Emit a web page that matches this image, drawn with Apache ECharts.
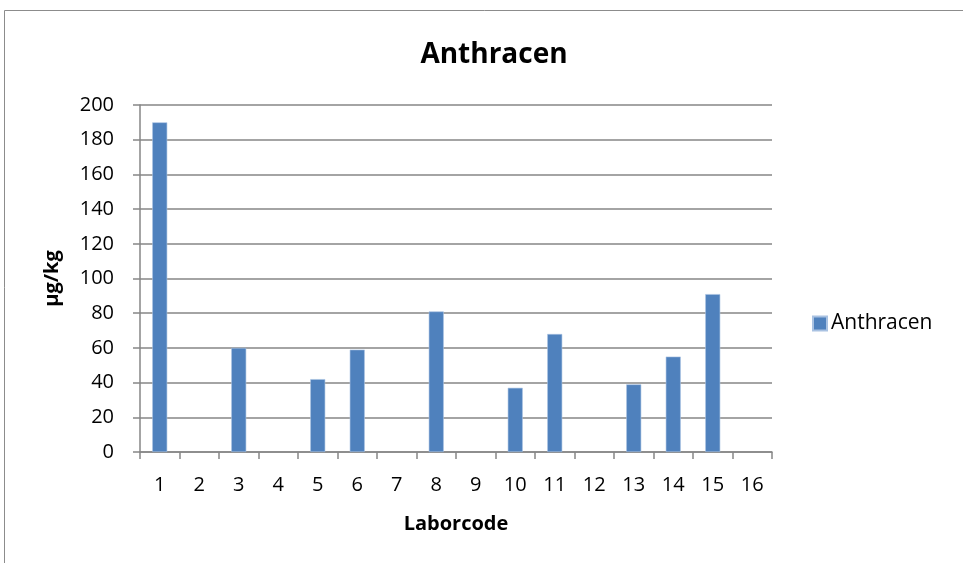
<!DOCTYPE html>
<html>
<head>
<meta charset="utf-8">
<script src="https://cdn.jsdelivr.net/npm/echarts@6/dist/echarts.min.js"></script>
<style>
  html, body { margin: 0; padding: 0; background: #fff; }
  #chart { width: 963px; height: 563px; }
</style>
</head>
<body>
<div id="chart"></div>
<script>
// Laboratory codes and measured Anthracen contents (µg/kg); null = no result
const laborcodes = ['1','2','3','4','5','6','7','8','9','10','11','12','13','14','15','16'];
const anthracenValues = [190, null, 60, null, 42, 59, null, 81, null, 37, 68, null, 39, 55, 91, null];
const yTicks = { min: 0, max: 200, interval: 20 };

const font = '"Open Sans", Lato, "Liberation Sans", sans-serif';
const gridColor = '#868686';

const chart = echarts.init(document.getElementById('chart'), null, { renderer: 'canvas' });
chart.setOption({
  backgroundColor: '#ffffff',
  animation: false,
  graphic: [{
    type: 'rect',
    shape: { x: 4.5, y: 10.5, width: 1000, height: 600 },
    style: { fill: 'none', stroke: '#8c8c8c', lineWidth: 1 },
    silent: true
  }],
  title: {
    text: 'Anthracen',
    left: 489, top: 36, textAlign: 'center',
    textStyle: { fontFamily: font, fontSize: 28, fontWeight: 'bold', color: '#000' }
  },
  legend: {
    data: ['Anthracen'],
    orient: 'vertical',
    left: 807, top: 308,
    itemWidth: 14, itemHeight: 14, itemGap: 6,
    icon: 'rect',
    textStyle: { fontFamily: font, fontSize: 21, color: '#000', padding: [0, 0, 0, -1] }
  },
  grid: { left: 140, right: 191, top: 105, bottom: 111, containLabel: false },
  xAxis: {
    type: 'category',
    data: laborcodes,
    name: 'Laborcode',
    nameLocation: 'middle',
    nameGap: 62,
    nameTextStyle: { fontFamily: font, fontSize: 20, fontWeight: 'bold', color: '#000' },
    axisLine: { lineStyle: { color: gridColor, width: 1.5 } },
    axisTick: { show: true, alignWithLabel: false, length: 7, lineStyle: { color: gridColor, width: 1.5 } },
    axisLabel: { fontFamily: font, fontSize: 20, color: '#000', margin: 23 },
    splitLine: { show: false }
  },
  yAxis: {
    type: 'value',
    min: yTicks.min, max: yTicks.max, interval: yTicks.interval,
    name: 'µg/kg',
    nameLocation: 'middle',
    nameGap: 78,
    nameRotate: 90,
    nameTextStyle: { fontFamily: font, fontSize: 20, fontWeight: 'bold', color: '#000' },
    axisLine: { show: true, lineStyle: { color: gridColor, width: 1.5 } },
    axisTick: { show: true, length: 7, lineStyle: { color: gridColor, width: 1.5 } },
    axisLabel: { fontFamily: font, fontSize: 20, color: '#000', margin: 26 },
    splitLine: { show: true, lineStyle: { color: gridColor, width: 1.5 } }
  },
  series: [{
    name: 'Anthracen',
    type: 'bar',
    data: anthracenValues,
    barWidth: 15,
    itemStyle: { color: '#4F81BD', borderColor: '#a9c2e2', borderWidth: 0.6 }
  }]
});
</script>
</body>
</html>
